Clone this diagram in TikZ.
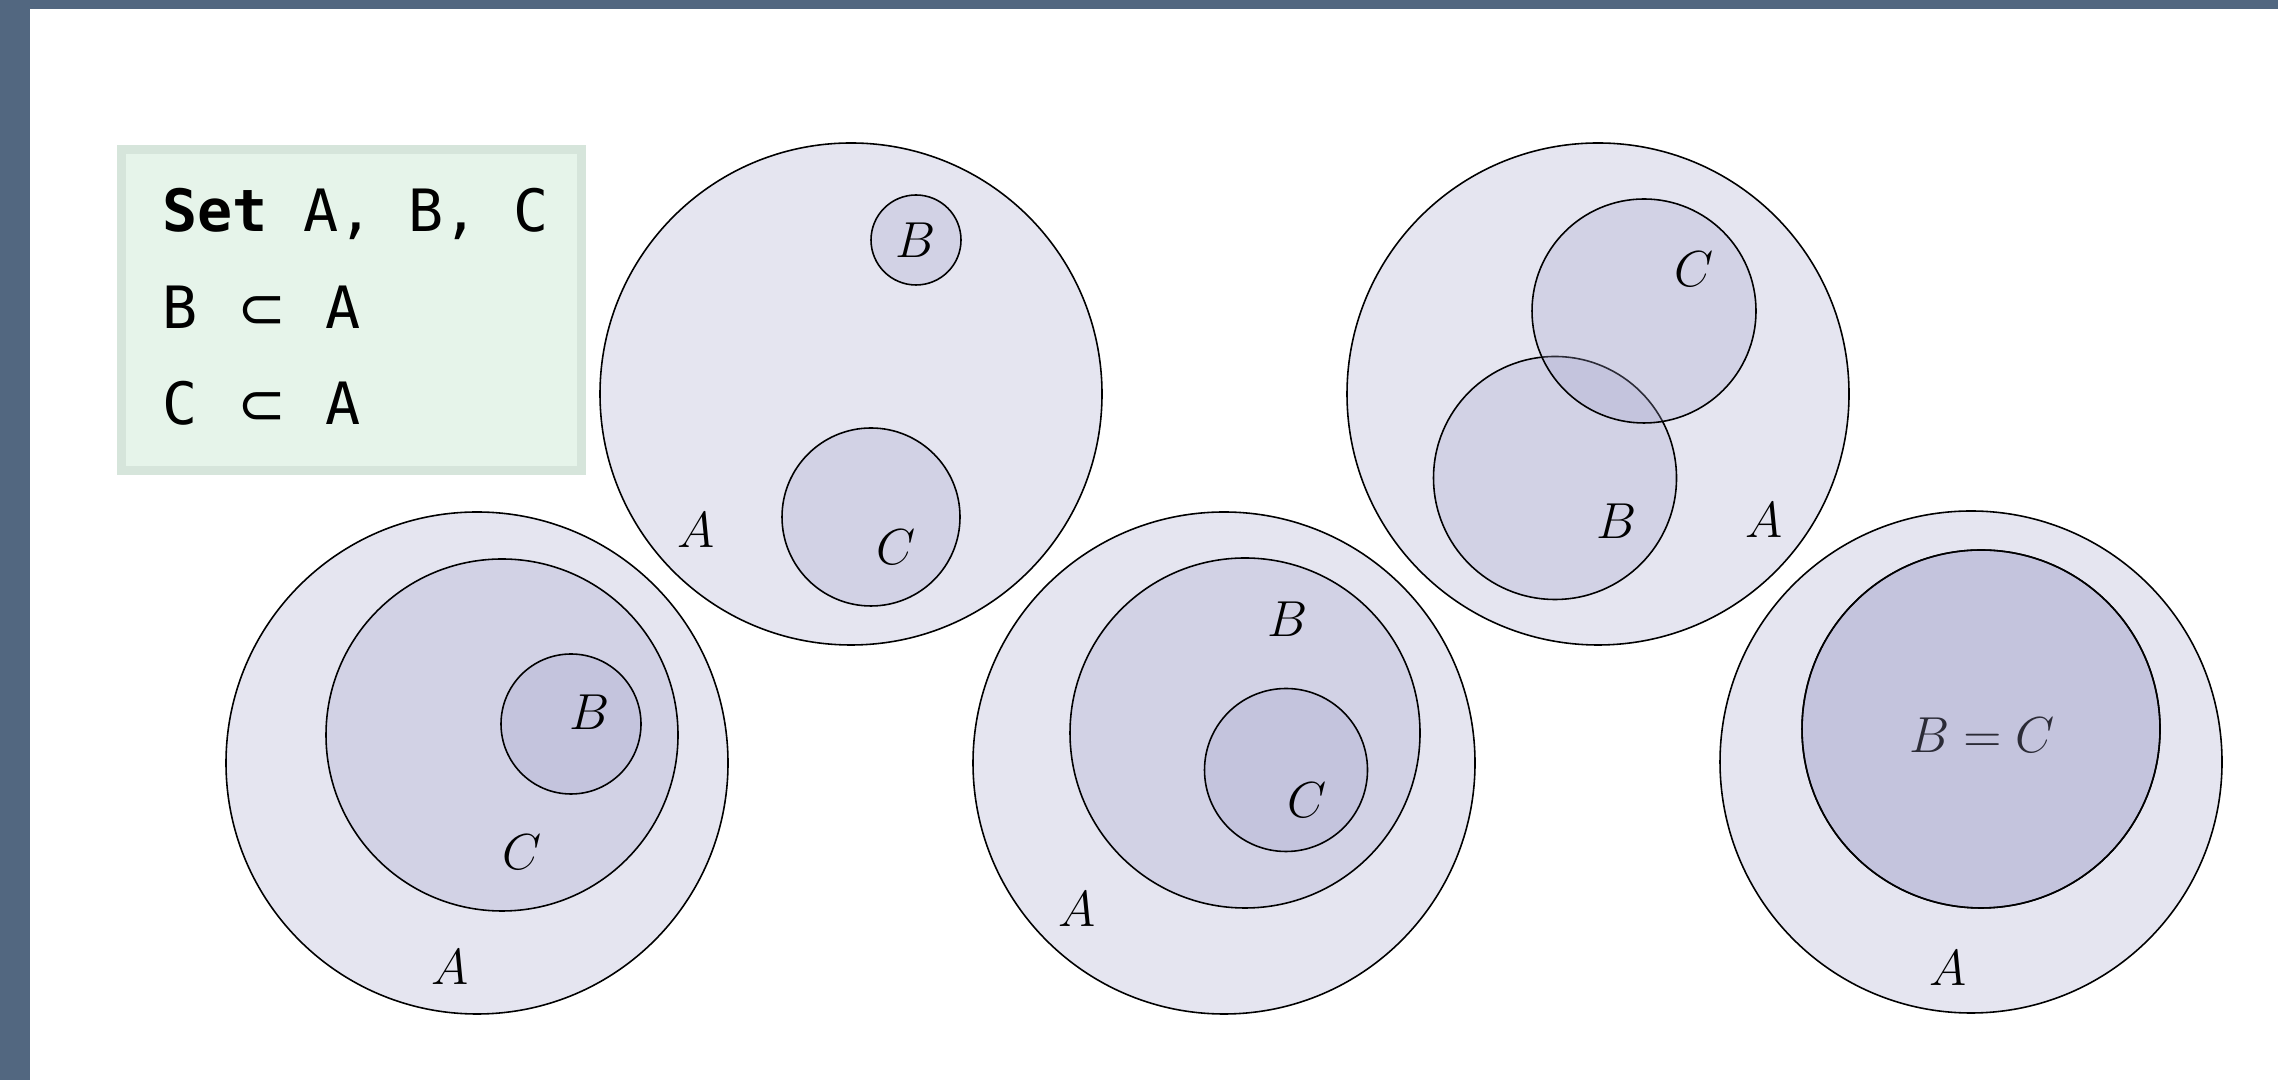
\documentclass[tikz,border=0pt]{standalone}
\usepackage{amsmath}
\usepackage{fontspec}
\usepackage{xcolor}
\usepackage{tikz}
\newfontfamily\notefont{DejaVu Sans Mono}
\newfontfamily\opfont{DejaVu Sans}
\newcommand{\subsetop}{\hspace{0.05cm}{\opfont ⊂}\hspace{0.04cm}}
\definecolor{framecol}{RGB}{82,103,128}
\definecolor{notegreen}{RGB}{230,244,234}
\definecolor{noteedge}{RGB}{214,229,219}
\definecolor{setfill}{RGB}{159,159,200}
\tikzset{
	venn/.style={draw=black,line width=0.45pt,fill=setfill,fill opacity=0.27},
	setname/.style={inner sep=0pt,font=\fontsize{14.2}{17}\selectfont},
	noteline/.style={inner sep=0pt,anchor=base west,font=\notefont\fontsize{16.6}{20}\selectfont}
}

\begin{document}
\begin{tikzpicture}
	\fill[framecol] (0,0) rectangle (22.78,10.80);
	\fill[white] (0.30,0) rectangle (22.78,10.71);

	\draw[noteedge,fill=notegreen,line width=0.09cm] (1.21,6.095) rectangle (5.81,9.305);
	\node[noteline] (n1) at (1.62,8.48) {\textbf{Set} A, B, C};
	\node[noteline] (n2) at (1.62,7.51) {B \subsetop{} A};
	\node[noteline] (n3) at (1.62,6.55) {C \subsetop{} A};

	\draw[venn] (8.51,6.86) circle (2.51);
	\draw[venn] (9.16,8.40) circle (0.45);
	\draw[venn] (8.71,5.63) circle (0.89);
	\node[setname] (a1) at (6.96,5.50) {$A$};
	\node[setname] (b1) at (9.16,8.40) {$B$};
	\node[setname] (c1) at (8.96,5.33) {$C$};

	\draw[venn] (15.98,6.86) circle (2.51);
	\draw[venn] (15.55,6.02) circle (1.215);
	\draw[venn] (16.44,7.69) circle (1.12);
	\node[setname] (a2) at (17.64,5.60) {$A$};
	\node[setname] (b2) at (16.17,5.59) {$B$};
	\node[setname] (c2) at (16.94,8.11) {$C$};

	\draw[venn] (4.77,3.17) circle (2.51);
	\draw[venn] (5.02,3.45) circle (1.76);
	\draw[venn] (5.71,3.56) circle (0.70);
	\node[setname] (a3) at (4.50,1.13) {$A$};
	\node[setname] (b3) at (5.90,3.68) {$B$};
	\node[setname] (c3) at (5.22,2.28) {$C$};

	\draw[venn] (12.24,3.17) circle (2.51);
	\draw[venn] (12.45,3.47) circle (1.75);
	\draw[venn] (12.86,3.10) circle (0.815);
	\node[setname] (a4) at (10.77,1.71) {$A$};
	\node[setname] (b4) at (12.88,4.61) {$B$};
	\node[setname] (c4) at (13.07,2.80) {$C$};

	\draw[venn] (19.71,3.18) circle (2.51);
	\draw[venn] (19.81,3.51) circle (1.79);
	\node[setname] (bc5) at (19.82,3.45) {$B=C$};
	\draw[venn] (19.81,3.51) circle (1.79);
	\node[setname] (a5) at (19.48,1.12) {$A$};
\end{tikzpicture}
\end{document}
